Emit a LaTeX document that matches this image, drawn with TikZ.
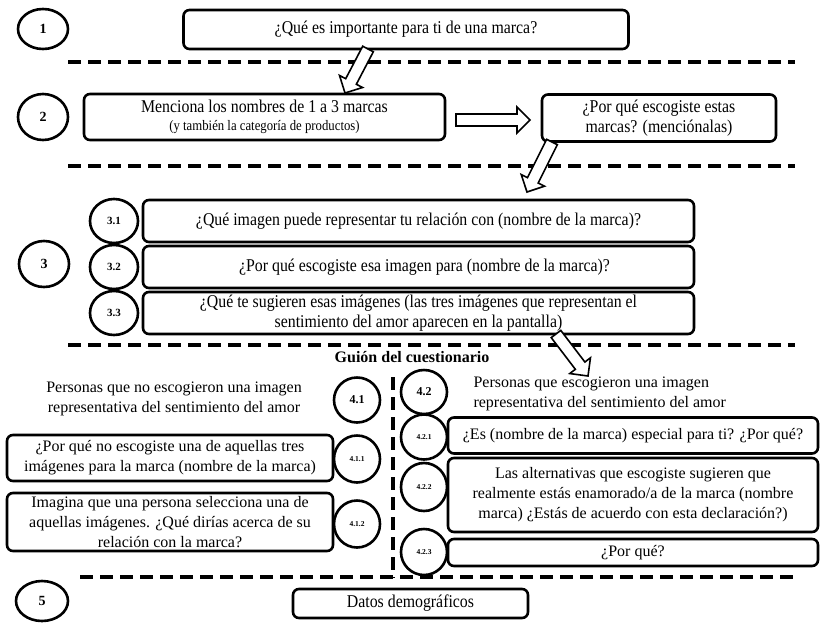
\documentclass[tikz,border=0pt]{standalone}
\usepackage{fontspec}
\setmainfont{Liberation Serif}
\newfontfamily\condfont{Liberation Serif}[FakeStretch=0.88]
\usetikzlibrary{shapes.geometric,calc}
\newcommand\setfs[1]{\fontsize{#1}{#1}\selectfont}
\tikzset{
  box/.style={draw, line width=2.6pt, rounded corners=6pt, align=center, inner sep=0pt},
  num/.style={draw, ellipse, line width=2.6pt, inner sep=0pt, font=\bfseries},
  sepline/.style={line width=4pt, dash pattern=on 13pt off 7pt},
  harrow/.style={draw, line width=1.6pt, fill=white, line join=miter},
  txtA/.style={font=\condfont\fontsize{18}{20}\selectfont},
  txtB/.style={font=\fontsize{16}{20}\selectfont},
}
\newcommand\hollowarrow[2]{%
  \draw[harrow] let \p1=($(#2)-(#1)$), \n1={atan2(\y1,\x1)}, \n2={veclen(\x1,\y1)} in
  ($(#1)+(\n1+90:6pt)$) -- ($(#1)+(\n1:\n2-13pt)+(\n1+90:6pt)$) --
  ($(#1)+(\n1:\n2-13pt)+(\n1+90:13pt)$) -- (#2) --
  ($(#1)+(\n1:\n2-13pt)+(\n1-90:13pt)$) -- ($(#1)+(\n1:\n2-13pt)+(\n1-90:6pt)$) --
  ($(#1)+(\n1-90:6pt)$) -- cycle;}
\begin{document}
\begin{tikzpicture}[x=1pt,y=-1pt]
\useasboundingbox (0,0) rectangle (826,622);
% separators
\coordinate (s1a) at (68,62);  \coordinate (s1b) at (795,62);
\coordinate (s2a) at (68,166); \coordinate (s2b) at (795,166);
\coordinate (s3a) at (68,345); \coordinate (s3b) at (795,345);
\coordinate (s4a) at (80,577); \coordinate (s4b) at (795,577);
\coordinate (v1a) at (393,377); \coordinate (v1b) at (393,578);
\draw[sepline] (s1a) -- (s1b);
\draw[sepline] (s2a) -- (s2b);
\draw[sepline] (s3a) -- (s3b);
\draw[sepline] (s4a) -- (s4b);
\draw[sepline, line width=3.5pt] (v1a) -- (v1b);

% section 1
\node[num, minimum width=50pt, minimum height=40pt, font=\bfseries\setfs{14}] (c1) at (43,29) {1};
\node[box, txtA, minimum width=445pt, minimum height=39pt] (b1) at (406,29.5) {¿Qué es importante para ti de una marca?};

% section 2
\node[num, minimum width=50pt, minimum height=46pt, font=\bfseries\setfs{14}] (c2) at (43,117) {2};
\node[box, txtA, minimum width=361pt, minimum height=46pt] (b2a) at (264.5,117)
  {Menciona los nombres de 1 a 3 marcas\\[-2pt]{\condfont\fontsize{14.5}{15}\selectfont (y también la categoría de productos)}};
\node[box, txtA, minimum width=234pt, minimum height=47pt] (b2b) at (659,118)
  {¿Por qué escogiste estas\\marcas? (menciónalas)};

% section 3
\node[num, minimum width=50pt, minimum height=46pt, font=\bfseries\setfs{14}] (c3) at (44,264) {3};
\node[num, minimum width=48pt, minimum height=44pt, font=\bfseries\setfs{11}] (c31) at (114,221) {3.1};
\node[num, minimum width=48pt, minimum height=44pt, font=\bfseries\setfs{11}] (c32) at (114,267) {3.2};
\node[num, minimum width=48pt, minimum height=44pt, font=\bfseries\setfs{11}] (c33) at (114,313) {3.3};
\node[box, txtA, minimum width=551pt, minimum height=42pt] (b31) at (418.5,221) {¿Qué imagen puede representar tu relación con (nombre de la marca)?};
\node[box, txtA, minimum width=551pt, minimum height=42pt] (b32) at (418.5,267) {\hspace*{12pt}¿Por qué escogiste esa imagen para (nombre de la marca)?};
\node[box, txtA, minimum width=551pt, minimum height=42pt] (b33) at (418.5,313) {¿Qué te sugieren esas imágenes (las tres imágenes que representan el\\sentimiento del amor aparecen en la pantalla)};

% section 4 heading
\node[font=\bfseries\setfs{16}] (title) at (412,357) {Guión del cuestionario};

% section 4 left
\node[txtB, align=center] (t41) at (174,399) {Personas que no escogieron una imagen\\representativa del sentimiento del amor};
\node[num, minimum width=46pt, minimum height=45pt, font=\bfseries\setfs{12}] (c41) at (357,400) {4.1};
\node[box, txtB, minimum width=326pt, minimum height=46pt] (b411) at (170,458) {¿Por qué no escogiste una de aquellas tres\\imágenes para la marca (nombre de la marca)};
\node[num, minimum width=46pt, minimum height=47pt, font=\bfseries\setfs{7.5}] (c411) at (357,459) {4.1.1};
\node[box, txtB, minimum width=326pt, minimum height=58pt] (b412) at (170,522) {Imagina que una persona selecciona una de\\aquellas imágenes. ¿Qué dirías acerca de su\\relación con la marca?};
\node[num, minimum width=46pt, minimum height=47pt, font=\bfseries\setfs{7.5}] (c412) at (357,524) {4.1.2};

% section 4 right
\node[num, minimum width=46pt, minimum height=44pt, font=\bfseries\setfs{12}] (c42) at (424,392) {4.2};
\node[txtB, align=left, anchor=west] (t42) at (470,394) {Personas que escogieron una imagen\\representativa del sentimiento del amor};
\node[num, minimum width=46pt, minimum height=45pt, font=\bfseries\setfs{7.5}] (c421) at (424,437) {4.2.1};
\node[box, txtB, minimum width=370pt, minimum height=36pt] (b421) at (633,435.5) {¿Es (nombre de la marca) especial para ti? ¿Por qué?};
\node[num, minimum width=46pt, minimum height=48pt, font=\bfseries\setfs{7.5}] (c422) at (424,487) {4.2.2};
\node[box, txtB, minimum width=370pt, minimum height=74pt] (b422) at (633,495) {Las alternativas que escogiste sugieren que\\realmente estás enamorado/a de la marca (nombre\\marca) ¿Estás de acuerdo con esta declaración?)};
\node[num, minimum width=46pt, minimum height=46pt, font=\bfseries\setfs{7.5}] (c423) at (424,552) {4.2.3};
\node[box, txtB, minimum width=370pt, minimum height=27pt] (b423) at (633,552.5) {¿Por qué?};

% section 5
\node[num, minimum width=52pt, minimum height=40pt, font=\bfseries\setfs{14}] (c5) at (42,601) {5};
\node[box, txtA, minimum width=235pt, minimum height=29pt] (b5) at (410.5,603.5) {Datos demográficos};

% block arrows
\coordinate (a1s) at (368,49);  \coordinate (a1e) at (345,93);
\coordinate (a2s) at (456,120); \coordinate (a2e) at (530,120);
\coordinate (a3s) at (552,142); \coordinate (a3e) at (527,192);
\coordinate (a4s) at (556,334); \coordinate (a4e) at (588,376);
\hollowarrow{a1s}{a1e}
\hollowarrow{a2s}{a2e}
\hollowarrow{a3s}{a3e}
\hollowarrow{a4s}{a4e}
\end{tikzpicture}
\end{document}
